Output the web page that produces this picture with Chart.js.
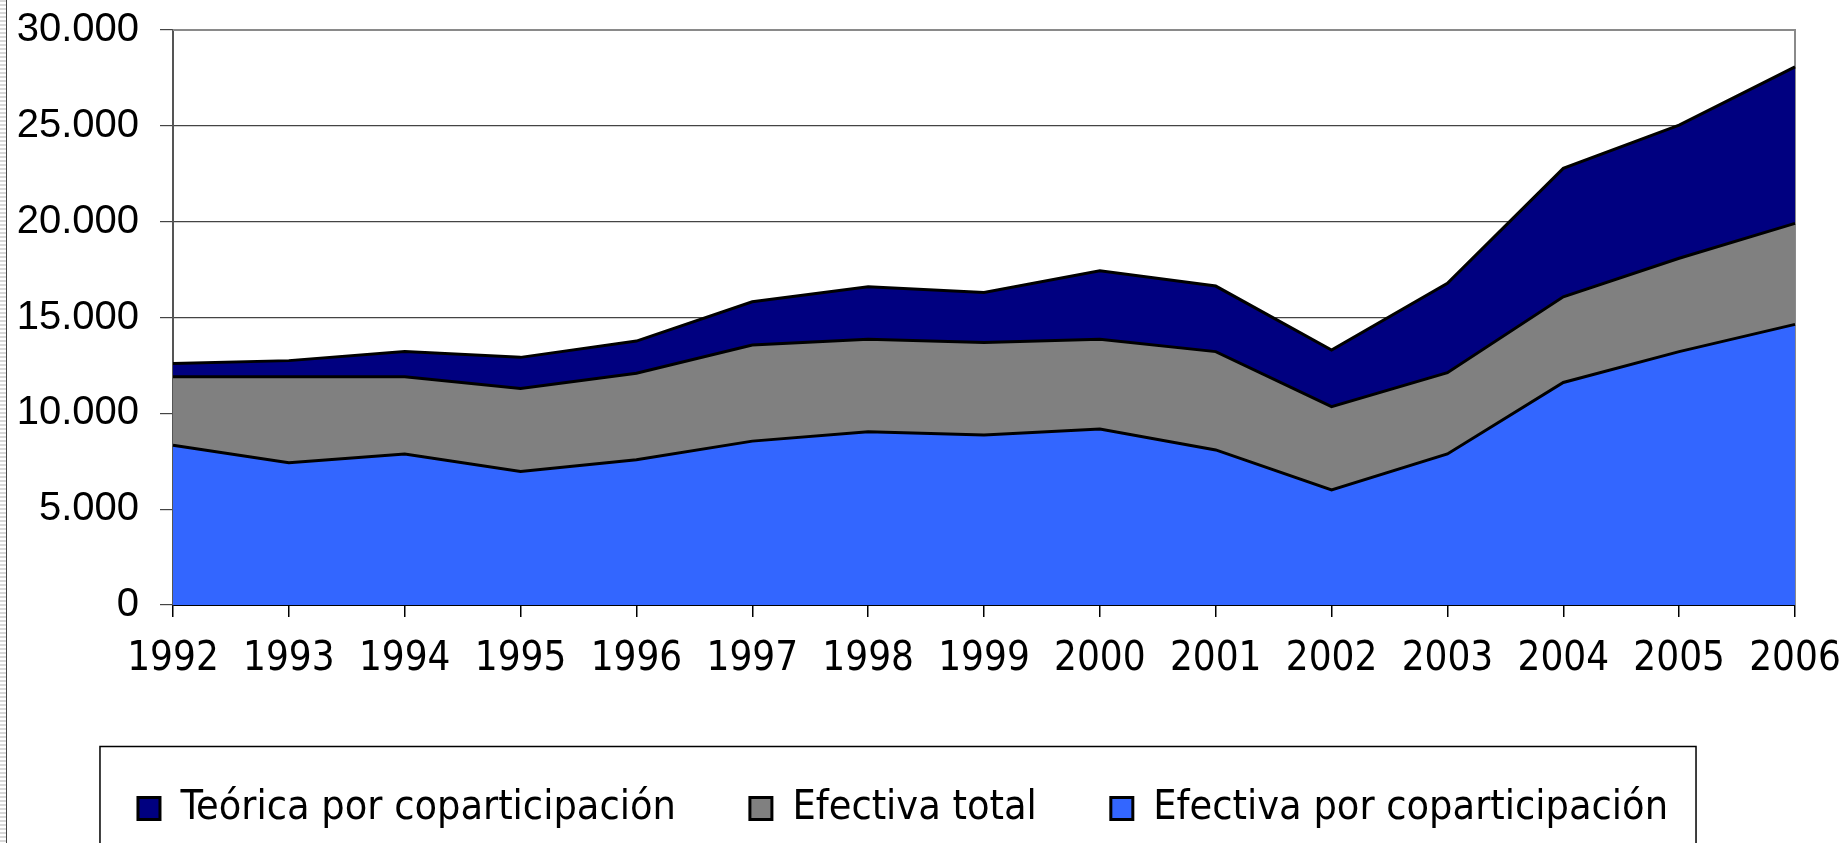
<!DOCTYPE html>
<html>
<head>
<meta charset="utf-8">
<script src="https://cdn.jsdelivr.net/npm/chart.js@4/dist/chart.umd.min.js"></script>
<style>
  html, body { margin: 0; padding: 0; background: #fff; overflow: hidden; }
  #wrap { position: relative; width: 1847px; height: 843px; }
  #edge { position: absolute; left: 0; top: 0; width: 6px; height: 843px;
          background: repeating-linear-gradient(180deg, #d8d8d8 0 2px, #fff 2px 4px);
          border-right: 1px solid #444; }
  canvas { position: absolute; left: 0; top: 0; }
</style>
</head>
<body>
<div id="wrap">
  <canvas id="c" width="1847" height="843"></canvas>
  <div id="edge"></div>
</div>
<script>
const years = ['1992','1993','1994','1995','1996','1997','1998','1999','2000','2001','2002','2003','2004','2005','2006'];
const teoricaCopart = [12600, 12750, 13220, 12920, 13770, 15820, 16610, 16310, 17440, 16640, 13300, 16780, 22780, 25040, 28080];
const efectivaTotal = [11910, 11910, 11910, 11300, 12090, 13560, 13860, 13700, 13860, 13220, 10350, 12120, 16080, 18090, 19910];
const efectivaCopart = [8330, 7420, 7880, 6960, 7580, 8550, 9040, 8870, 9180, 8090, 6000, 7880, 11610, 13220, 14640];
const seriesNames = ['Teórica por coparticipación', 'Efectiva total', 'Efectiva por coparticipación'];
const yMin = 0, yMax = 30000, yStep = 5000;

const narrow = '"Liberation Sans Narrow", "Arial Narrow", "DejaVu Sans Condensed", sans-serif';
const fmt = v => String(v).replace(/\B(?=(\d{3})+(?!\d))/g, '.');

const frame = {
  id: 'frame',
  beforeDatasetsDraw(chart) {
    const {ctx, chartArea: a} = chart;
    ctx.save();
    ctx.strokeStyle = '#8a8a8a';
    ctx.lineWidth = 2;
    ctx.beginPath();
    ctx.moveTo(a.left, a.top); ctx.lineTo(a.right, a.top); ctx.lineTo(a.right, a.bottom);
    ctx.stroke();
    ctx.restore();
  },
  afterDraw(chart) {
    const lg = chart.legend;
    if (!lg || !lg.legendHitBoxes || !lg.legendHitBoxes.length) return;
    const hb = lg.legendHitBoxes;
    const first = hb[0], last = hb[hb.length - 1];
    const cy = first.top + first.height / 2;
    const ctx = chart.ctx;
    ctx.save();
    ctx.strokeStyle = '#000';
    ctx.lineWidth = 1.5;
    ctx.strokeRect(first.left - 38, cy - 62, (last.left + last.width + 28) - (first.left - 38), 200);
    ctx.restore();
  }
};

const mk = (label, data, color, order) => ({
  label, data, order,
  backgroundColor: color,
  borderColor: '#000',
  borderWidth: 3,
  fill: 'origin',
  pointRadius: 0,
  pointHoverRadius: 0,
  tension: 0
});

new Chart(document.getElementById('c'), {
  type: 'line',
  data: {
    labels: years,
    datasets: [
      mk(seriesNames[0], teoricaCopart, '#000080', 3),
      mk(seriesNames[1], efectivaTotal, '#808080', 2),
      mk(seriesNames[2], efectivaCopart, '#3366FF', 1)
    ]
  },
  options: {
    responsive: false,
    animation: false,
    events: [],
    layout: { padding: { left: 11, right: 52, top: 30, bottom: 4 } },
    plugins: {
      tooltip: { enabled: false },
      title: { display: false },
      legend: {
        position: 'bottom',
        labels: {
          sort: (a, b) => a.datasetIndex - b.datasetIndex,
          color: '#000',
          font: { family: narrow, size: 41 },
          boxWidth: 22,
          boxHeight: 22,
          padding: 74
        }
      }
    },
    scales: {
      x: {
        offset: false,
        grid: { display: true, drawOnChartArea: false, drawTicks: true, tickLength: 12, color: '#000', lineWidth: 1.5 },
        border: { display: true, color: '#000', width: 2 },
        ticks: {
          color: '#000',
          font: { family: narrow, size: 40, lineHeight: 2.15 },
          padding: 0,
          maxRotation: 0,
          autoSkip: false
        },
        afterFit(s) { s.height = 109; }
      },
      y: {
        min: yMin, max: yMax,
        grid: { color: '#444', lineWidth: 1.2, tickLength: 13, drawTicks: true },
        border: { display: true, color: '#555', width: 2 },
        ticks: {
          stepSize: yStep,
          color: '#000',
          font: { family: '"Liberation Sans", Arial, sans-serif', size: 40, lineHeight: 0.4 },
          padding: 21,
          callback: v => fmt(v)
        },
        afterFit(s) { s.width = 162; }
      }
    }
  },
  plugins: [frame]
});
</script>
</body>
</html>
